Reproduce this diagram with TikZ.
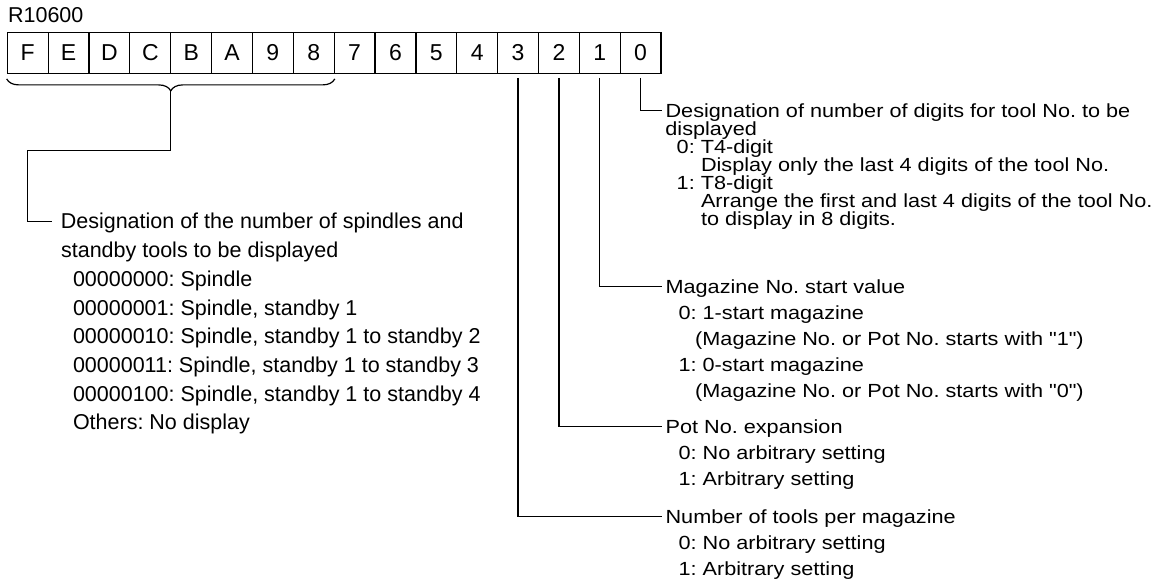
\documentclass[tikz,border=0pt]{standalone}
\usepackage{fontspec}
\setmainfont{Liberation Sans}
\newfontfamily\wideSans{Liberation Sans}[FakeStretch=1.14]
\usetikzlibrary{decorations.pathreplacing}
\frenchspacing

\begin{document}
\begin{tikzpicture}[x=1pt, y=-1pt, line width=1.2pt,
  bitcell/.style={draw, minimum width=40.86pt, minimum height=41pt, inner sep=0pt, font=\fontsize{23}{23}\selectfont},
  headL/.style={anchor=base west, inner ysep=0pt, inner xsep=8.5pt, text depth=0pt, font=\fontsize{21.5}{28.7}\selectfont},
  bodyL/.style={anchor=base west, inner sep=0pt, align=left, font=\fontsize{21.5}{28.7}\selectfont},
  headR/.style={anchor=base west, inner ysep=0pt, inner xsep=3pt, text depth=0pt, font=\wideSans\fontsize{19}{18}\selectfont},
  bodyR/.style={anchor=base west, inner sep=0pt, align=left, font=\wideSans\fontsize{19}{#1}\selectfont},
  bodyR/.default=26]
\useasboundingbox (0,0) rectangle (1158,585);

% register R10600, bits F..0
\node[anchor=west, inner sep=0pt, font=\fontsize{21.5}{21.5}\selectfont] (reg) at (7.5,15) {R10600};
\foreach \b [count=\i from 0] in {F,E,D,C,B,A,9,8,7,6,5,4,3,2,1,0}
  \node[bitcell] (c\b) at (27.73+40.86*\i,52.8) {\b};

% brace over bits F-8
\draw[decorate, decoration={brace, mirror, amplitude=12pt}] ([yshift=-5pt]cF.south west) -- ([yshift=-5pt]c8.south east);
\coordinate (brtip) at (170.7,90.3);

% bits F-8: spindles and standby tools (body sits on its last baseline)
\node[headL] (spnhd) at (51.7,229) {Designation of the number of spindles and};
\node[bodyL] (spnbody) at (60.5,429.9) {standby tools to be displayed\\
  \hspace*{11.9pt}00000000: Spindle\\
  \hspace*{11.9pt}00000001: Spindle, standby 1\\
  \hspace*{11.9pt}00000010: Spindle, standby 1 to standby 2\\
  \hspace*{11.9pt}00000011: Spindle, standby 1 to standby 3\\
  \hspace*{11.9pt}00000100: Spindle, standby 1 to standby 4\\
  \hspace*{11.9pt}Others: No display};

% bit 0: tool No. digits
\node[headR] (dsphd) at (662,117.3) {Designation of number of digits for tool No. to be};
\node[bodyR=18] (dspbody) at (664.8,225.3) {displayed\\
  \hspace*{11.3pt}0: T4-digit\\
  \hspace*{35.6pt}Display only the last 4 digits of the tool No.\\
  \hspace*{11.3pt}1: T8-digit\\
  \hspace*{35.6pt}Arrange the first and last 4 digits of the tool No.\\
  \hspace*{35.6pt}to display in 8 digits.};

% bit 1: magazine start
\node[headR] (maghd) at (662,293.3) {Magazine No. start value};
\node[bodyR] (magbody) at (665,397.3) {\hspace*{13pt}0: 1-start magazine\\
  \hspace*{29.6pt}(Magazine No. or Pot No. starts with "1")\\
  \hspace*{13pt}1: 0-start magazine\\
  \hspace*{29.6pt}(Magazine No. or Pot No. starts with "0")};

% bit 2: pot expansion
\node[headR] (pothd) at (662,433.3) {Pot No. expansion};
\node[bodyR] (potbody) at (665,485.3) {\hspace*{13pt}0: No arbitrary setting\\
  \hspace*{13pt}1: Arbitrary setting};

% bit 3: tools per magazine
\node[headR] (toolhd) at (662,523.3) {Number of tools per magazine};
\node[bodyR] (toolbody) at (665,575.3) {\hspace*{13pt}0: No arbitrary setting\\
  \hspace*{13pt}1: Arbitrary setting};

% connectors
\draw (brtip) |- (27.3,150.7) |- (spnhd.west);
\draw ([yshift=-4pt]c0.south) |- (dsphd.west);
\draw ([yshift=-4pt]c1.south) |- (maghd.west);
\draw ([yshift=-4pt]c2.south) |- (pothd.west);
\draw ([yshift=-4pt]c3.south) |- (toolhd.west);
\end{tikzpicture}
\end{document}
